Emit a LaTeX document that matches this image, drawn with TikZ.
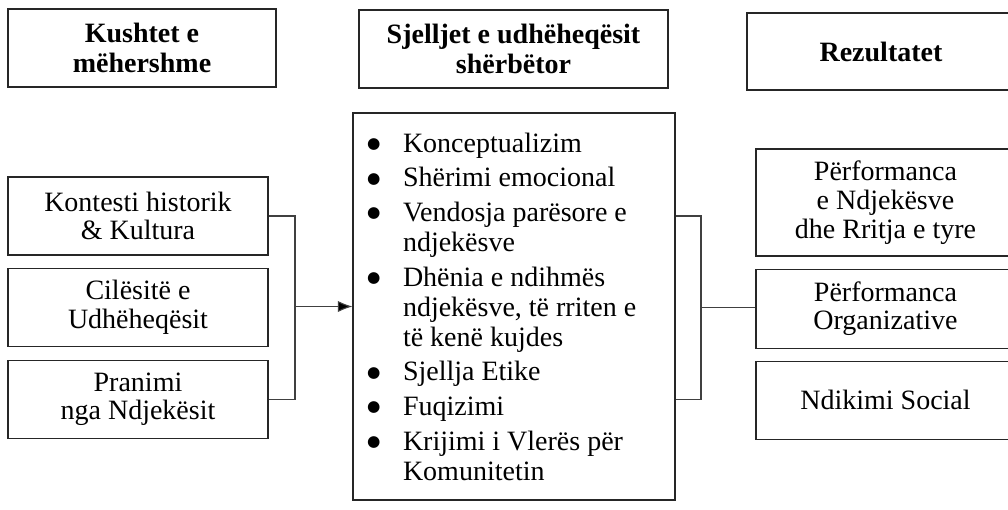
\documentclass[tikz,border=0pt]{standalone}
\usepackage{fontspec}
\setmainfont{Liberation Serif}
\newfontfamily\dotfont{DejaVu Sans}
\usepackage{tikz}
\usetikzlibrary{positioning, arrows.meta, calc}

\newcommand{\itm}{\makebox[25.5pt][l]{\hspace*{-1.5pt}\raisebox{2.8pt}{\dotfont\fontsize{11.5}{11.5}\selectfont ●}}}
\newcommand{\cont}{\hspace*{25.5pt}}

\begin{document}
\begin{tikzpicture}[x=0.75pt, y=-0.75pt,
    box/.style={draw=black!85, line width=0.8pt, align=center, inner sep=0pt,
      font=\fontsize{21}{21.5}\selectfont},
    hdr/.style={box, minimum height=58.5pt, font=\fontsize{21}{22.5}\selectfont\bfseries},
    sidebox/.style={box, minimum width=195pt, minimum height=58.5pt},
    resbox/.style={box, minimum width=194.25pt, minimum height=59.25pt},
    link/.style={draw=black!75, line width=0.8pt}]
  \useasboundingbox (0,0) rectangle (1008,510);

  % headings
  \node[hdr, minimum width=201pt] (h1) at (142,48) {Kushtet e\\mëhershme};
  \node[hdr, minimum width=231.75pt] (h2) at (513.5,49) {Sjelljet e udhëheqësit\\shërbëtor};
  \node[hdr, minimum width=201pt, minimum height=57.75pt] (h3) at (881,51.5) {Rezultatet};

  % antecedents
  \node[sidebox] (l1) at (138,216) {Kontesti historik\\\& Kultura};
  \node[sidebox, below=9pt of l1] (l2) {Cilësitë e\\Udhëheqësit};
  \node[sidebox, below=9.75pt of l2] (l3) {Pranimi\\nga Ndjekësit};

  % servant leader behaviours
  \node[box, align=flush left, text width=217.5pt, inner xsep=12pt,
        minimum height=290.25pt, font=\fontsize{21}{22.5}\selectfont] (mid) at (514,306.5)
    {\itm Konceptualizim\\[3.5pt]
     \itm Shërimi emocional\\[3.5pt]
     \itm Vendosja parësore e\\
     \cont ndjekësve\\[3.5pt]
     \itm Dhënia e ndihmës\\
     \cont ndjekësve, të rriten e\\
     \cont të kenë kujdes\\[3.5pt]
     \itm Sjellja Etike\\[3.5pt]
     \itm Fuqizimi\\[3.5pt]
     \itm Krijimi i Vlerës për\\
     \cont Komunitetin};

  % outcomes
  \node[resbox, minimum height=80.25pt] (r1) at (885.5,202.5) {Përformanca\\e Ndjekësve\\dhe Rritja e tyre};
  \node[resbox, below=9pt of r1] (r2) {Përformanca\\Organizative};
  \node[resbox, minimum height=58.5pt, below=9pt of r2] (r3) {Ndikimi Social};

  % connectors
  \coordinate (lj) at (295,306.5);
  \coordinate (rj) at (701,307.5);
  \draw[link] (l1.east) -| (lj);
  \draw[link] (l3.east) -| (lj);
  \draw[link, -{Latex[length=11pt, width=8.5pt, fill=black]}] (lj) -- (mid.west);
  \draw[link] (mid.east |- l1.east) -| (rj);
  \draw[link] (mid.east |- l3.east) -| (rj);
  \draw[link] (rj) -- (rj -| r2.west);
\end{tikzpicture}
\end{document}
